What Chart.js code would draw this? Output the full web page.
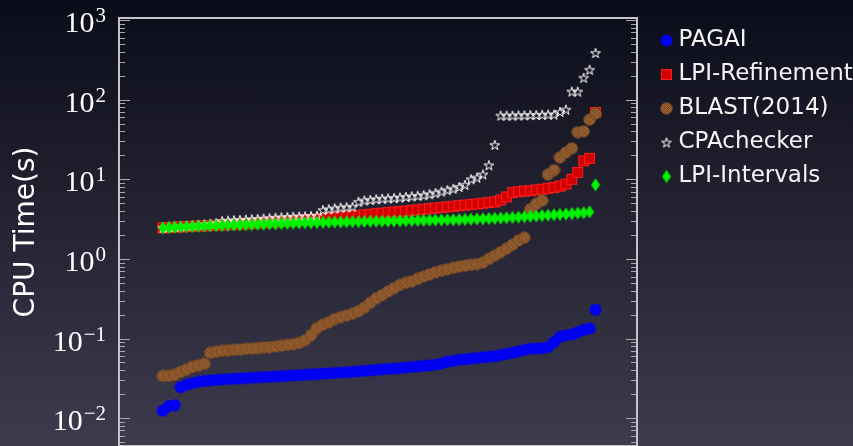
<!DOCTYPE html>
<html>
<head>
<meta charset="utf-8">
<script src="https://cdn.jsdelivr.net/npm/chart.js@4.4.1/dist/chart.umd.min.js"></script>
<style>
html, body {
    margin: 0;
    padding: 0;
    width: 853px;
    height: 446px;
    overflow: hidden;
    background: linear-gradient(to bottom, #0b0c19 0%, #3d3b4d 100%);
}
#wrap { position: relative; width: 853px; height: 451px; }
</style>
</head>
<body>
<div id="wrap"><canvas id="cactusChart"></canvas></div>
<script>
// series names (legend order)
const seriesNames = ["PAGAI", "LPI-Refinement", "BLAST(2014)", "CPAchecker", "LPI-Intervals"];

// CPU time per solved benchmark, sorted (seconds)
const pagai = [0.0124, 0.0142, 0.0145, 0.0245, 0.0262, 0.0275, 0.0285, 0.0293, 0.0298, 0.0302,
    0.0306, 0.031, 0.0313, 0.0316, 0.0319, 0.0322, 0.0325, 0.0328, 0.0331, 0.0334,
    0.0337, 0.034, 0.0344, 0.0347, 0.035, 0.0354, 0.0358, 0.0362, 0.0366, 0.037,
    0.0374, 0.0378, 0.0383, 0.0388, 0.0393, 0.0398, 0.0404, 0.041, 0.0415, 0.042,
    0.0426, 0.0432, 0.0439, 0.0446, 0.0453, 0.046, 0.0468, 0.0485, 0.051, 0.0525,
    0.054, 0.055, 0.056, 0.057, 0.058, 0.059, 0.060, 0.062, 0.064, 0.066,
    0.069, 0.072, 0.074, 0.075, 0.076, 0.078, 0.09, 0.105, 0.11, 0.112,
    0.12, 0.128, 0.133, 0.23];

const lpiRefinement = [2.45, 2.48, 2.5, 2.52, 2.54, 2.56, 2.58, 2.6, 2.62, 2.64,
    2.66, 2.68, 2.7, 2.73, 2.76, 2.79, 2.82, 2.85, 2.88, 2.91,
    2.94, 2.97, 3.0, 3.04, 3.08, 3.12, 3.16, 3.2, 3.25, 3.3,
    3.35, 3.4, 3.46, 3.52, 3.58, 3.64, 3.7, 3.76, 3.82, 3.88,
    3.94, 4.0, 4.07, 4.14, 4.21, 4.28, 4.35, 4.42, 4.5, 4.58,
    4.66, 4.74, 4.82, 4.9, 5.0, 5.1, 5.2, 5.5, 6.0, 6.8,
    7.0, 7.1, 7.2, 7.35, 7.5, 7.7, 7.9, 8.2, 8.7, 10,
    12.2, 17, 18.3, 69];

const blast = [0.034, 0.034, 0.035, 0.038, 0.041, 0.044, 0.046, 0.048, 0.066, 0.068,
    0.07, 0.071, 0.072, 0.073, 0.074, 0.075, 0.076, 0.077, 0.078, 0.079,
    0.081, 0.083, 0.085, 0.088, 0.095, 0.11, 0.135, 0.15, 0.16, 0.175,
    0.185, 0.195, 0.205, 0.22, 0.245, 0.28, 0.32, 0.35, 0.39, 0.43,
    0.47, 0.5, 0.52, 0.56, 0.6, 0.64, 0.68, 0.71, 0.74, 0.77,
    0.8, 0.82, 0.84, 0.86, 0.9, 1.0, 1.1, 1.22, 1.35, 1.5,
    1.7, 1.85, 4.2, 4.9, 5.4, 11.5, 13, 18.8, 21.7, 24.5,
    39, 40, 56, 67];

const cpaChecker = [2.46, 2.5, 2.53, 2.56, 2.6, 2.63, 2.67, 2.71, 2.76, 2.82,
    2.98, 3.02, 3.05, 3.08, 3.11, 3.14, 3.17, 3.2, 3.24, 3.28,
    3.32, 3.35, 3.38, 3.4, 3.42, 3.45, 3.48, 4.1, 4.2, 4.3,
    4.4, 4.45, 4.5, 5.2, 5.4, 5.5, 5.6, 5.7, 5.75, 5.8,
    5.9, 6.0, 6.1, 6.2, 6.3, 6.5, 6.7, 7.0, 7.3, 7.6,
    8.0, 8.5, 10, 10.5, 11.5, 15, 27, 63, 63, 63,
    63.5, 63.5, 64, 64, 64.5, 65, 65, 70, 75, 126,
    126, 188, 237, 385];

const lpiIntervals = [2.45, 2.48, 2.5, 2.52, 2.54, 2.55, 2.57, 2.58, 2.6, 2.61,
    2.63, 2.64, 2.66, 2.67, 2.69, 2.7, 2.72, 2.73, 2.75, 2.76,
    2.78, 2.79, 2.81, 2.82, 2.84, 2.85, 2.86, 2.88, 2.89, 2.9,
    2.91, 2.92, 2.93, 2.94, 2.95, 2.96, 2.97, 2.98, 2.99, 3.0,
    3.01, 3.02, 3.03, 3.04, 3.05, 3.06, 3.07, 3.08, 3.09, 3.1,
    3.11, 3.13, 3.15, 3.17, 3.19, 3.21, 3.23, 3.25, 3.28, 3.31,
    3.34, 3.38, 3.42, 3.46, 3.5, 3.54, 3.58, 3.62, 3.66, 3.7,
    3.75, 3.8, 3.9, 8.5];

// y axis decades that get a label
const yExponents = [3, 2, 1, 0, -1, -2];

// --- marker images ---
function makeMarker(w, h, draw) {
    const c = document.createElement("canvas");
    c.width = w;
    c.height = h;
    draw(c.getContext("2d"), w, h);
    return c;
}

const blueDot = makeMarker(13, 13, function (g) {
    g.fillStyle = "#0000f0";
    g.beginPath();
    g.arc(6.5, 6.5, 6, 0, Math.PI * 2);
    g.fill();
});

const redSquare = makeMarker(13, 13, function (g) {
    g.fillStyle = "#d20000";
    g.fillRect(1, 1, 11, 11);
    g.strokeStyle = "#ff1c1c";
    g.lineWidth = 1;
    g.strokeRect(1.5, 1.5, 10, 10);
});

const brownDot = makeMarker(13, 13, function (g) {
    g.save();
    g.beginPath();
    g.arc(6.5, 6.5, 5.8, 0, Math.PI * 2);
    g.fillStyle = "#9a6232";
    g.fill();
    g.clip();
    g.strokeStyle = "rgba(105,62,28,0.75)";
    g.lineWidth = 0.8;
    for (let k = -13; k <= 13; k += 4) {
        g.beginPath(); g.moveTo(k, 0); g.lineTo(k + 13, 13); g.stroke();
        g.beginPath(); g.moveTo(k + 13, 0); g.lineTo(k, 13); g.stroke();
    }
    g.restore();
    g.beginPath();
    g.arc(6.5, 6.5, 5.8, 0, Math.PI * 2);
    g.strokeStyle = "#7a4a22";
    g.lineWidth = 0.8;
    g.stroke();
});

const whiteStar = makeMarker(12, 12, function (g) {
    g.beginPath();
    for (let k = 0; k < 10; k++) {
        const r = k % 2 === 0 ? 5.2 : 1.9;
        const a = -Math.PI / 2 + k * Math.PI / 5;
        const px = 6 + r * Math.cos(a), py = 6.5 + r * Math.sin(a);
        if (k === 0) g.moveTo(px, py); else g.lineTo(px, py);
    }
    g.closePath();
    g.strokeStyle = "#ffffff";
    g.lineWidth = 1;
    g.stroke();
});

const greenDiamond = makeMarker(10, 14, function (g) {
    g.fillStyle = "#00f000";
    g.beginPath();
    g.moveTo(5, 0.5);
    g.lineTo(9.5, 7);
    g.lineTo(5, 13.5);
    g.lineTo(0.5, 7);
    g.closePath();
    g.fill();
});

function toPoints(values) {
    return values.map(function (v, i) { return { x: i, y: v }; });
}

// frame, inward log ticks and 10^n labels
const frameAndTicks = {
    id: "frameAndTicks",
    afterDraw(chart) {
        const ctx = chart.ctx;
        const area = chart.chartArea;
        const y = chart.scales.y;
        ctx.save();
        ctx.strokeStyle = "#a9a9ad";
        ctx.lineWidth = 1;
        for (let e = -3; e <= 3; e++) {
            for (let d = 1; d <= 9; d++) {
                const v = d * Math.pow(10, e);
                if (v < y.min || v > y.max) continue;
                const py = Math.round(y.getPixelForValue(v)) + 0.5;
                const len = d === 1 ? 11 : 6;
                ctx.beginPath();
                ctx.moveTo(area.left, py); ctx.lineTo(area.left + len, py);
                ctx.moveTo(area.right, py); ctx.lineTo(area.right - len, py);
                ctx.stroke();
            }
        }
        ctx.strokeStyle = "#c4c4c8";
        ctx.lineWidth = 2;
        ctx.strokeRect(area.left, area.top, area.right - area.left, area.bottom - area.top);

        ctx.fillStyle = "#ffffff";
        ctx.textAlign = "right";
        ctx.textBaseline = "alphabetic";
        yExponents.forEach(function (e) {
            const py = y.getPixelForValue(Math.pow(10, e));
            const exp = String(e).replace("-", "\u2212");
            ctx.font = "21px 'Liberation Serif'";
            const ew = ctx.measureText(exp).width;
            ctx.fillText(exp, area.left - 13, py + 2);
            ctx.font = "30px 'Liberation Serif'";
            ctx.fillText("10", area.left - 14 - ew, py + 12);
        });
        ctx.restore();
    }
};

const ctx = document.getElementById("cactusChart").getContext("2d");
new Chart(ctx, {
    type: "scatter",
    data: {
        datasets: [
            { label: seriesNames[0], data: toPoints(pagai), pointStyle: blueDot, order: 5 },
            { label: seriesNames[1], data: toPoints(lpiRefinement), pointStyle: redSquare, order: 4 },
            { label: seriesNames[2], data: toPoints(blast), pointStyle: brownDot, order: 3 },
            { label: seriesNames[3], data: toPoints(cpaChecker), pointStyle: whiteStar, order: 2 },
            { label: seriesNames[4], data: toPoints(lpiIntervals), pointStyle: greenDiamond, order: 1 }
        ]
    },
    options: {
        responsive: true,
        maintainAspectRatio: false,
        animation: false,
        layout: { padding: { top: 18, left: 0, right: 0, bottom: 0 } },
        scales: {
            x: {
                type: "linear",
                min: -7.4,
                max: 80.0,
                bounds: "data",
                display: false
            },
            y: {
                type: "logarithmic",
                position: "left",
                min: 0.00447,
                max: 1059,
                bounds: "data",
                grid: { display: false },
                border: { display: false },
                ticks: { display: false },
                title: {
                    display: true,
                    text: "CPU Time(s)",
                    color: "#ffffff",
                    font: { family: "'DejaVu Sans'", size: 28 },
                    padding: { top: 10, bottom: 0 }
                },
                afterFit: function (s) { s.width = 119; }
            },
            gap: {
                type: "linear",
                position: "right",
                display: true,
                grid: { display: false },
                border: { display: false },
                ticks: { display: false },
                afterFit: function (s) { s.width = 18; }
            }
        },
        plugins: {
            legend: {
                position: "right",
                align: "start",
                maxWidth: 198,
                labels: {
                    usePointStyle: true,
                    boxWidth: 1,
                    padding: 11,
                    color: "#f4f4f4",
                    font: { family: "'DejaVu Sans'", size: 23 },
                    sort: function (a, b) { return a.datasetIndex - b.datasetIndex; }
                }
            },
            tooltip: { enabled: false }
        }
    },
    plugins: [frameAndTicks]
});
</script>
</body>
</html>
